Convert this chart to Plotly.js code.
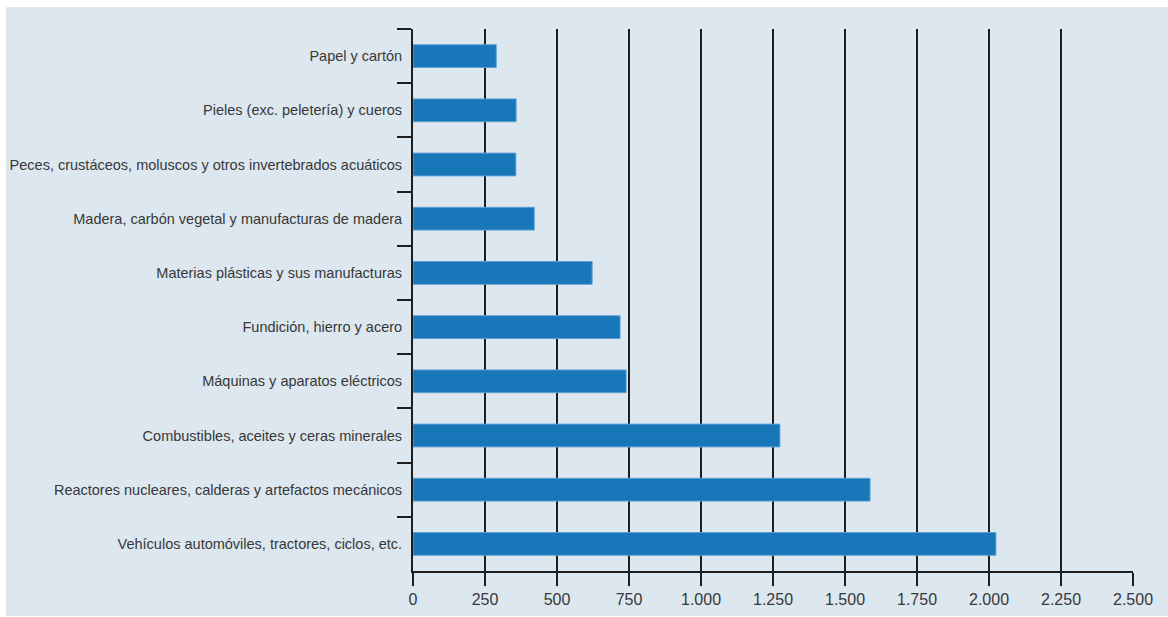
<!DOCTYPE html>
<html>
<head>
<meta charset="utf-8">
<script src="https://cdn.plot.ly/plotly-3.0.1.min.js"></script>
<style>
  html, body { margin: 0; padding: 0; background: #ffffff; width: 1168px; height: 617px; overflow: hidden; }
  #chart { position: absolute; left: 6px; top: 7px; width: 1162px; height: 609px; }
</style>
</head>
<body>
<div id="chart"></div>
<script>
const categories = [
  "Papel y cartón",
  "Pieles (exc. peletería) y cueros",
  "Peces, crustáceos, moluscos y otros invertebrados acuáticos",
  "Madera, carbón vegetal y manufacturas de madera",
  "Materias plásticas y sus manufacturas",
  "Fundición, hierro y acero",
  "Máquinas y aparatos eléctricos",
  "Combustibles, aceites y ceras minerales",
  "Reactores nucleares, calderas y artefactos mecánicos",
  "Vehículos automóviles, tractores, ciclos, etc."
];
const values = [289, 358, 357, 421, 622, 719, 740, 1274, 1587, 2024];
const tickVals = [0, 250, 500, 750, 1000, 1250, 1500, 1750, 2000, 2250, 2500];
const tickText = ["0", "250", "500", "750", "1.000", "1.250", "1.500", "1.750", "2.000", "2.250", "2.500"];

const trace = {
  type: "bar",
  orientation: "h",
  y: categories,
  x: values,
  width: 0.42,
  marker: { color: "#1877b8", line: { color: "#5da0d4", width: 1 } },
  hoverinfo: "x+y"
};

const layout = {
  width: 1162,
  height: 609,
  margin: { l: 407, r: 35, t: 22, b: 45 },
  paper_bgcolor: "#dce7f0",
  plot_bgcolor: "rgba(0,0,0,0)",
  showlegend: false,
  font: { family: "Liberation Sans, Arial, sans-serif", size: 14, color: "#383838" },
  xaxis: {
    range: [0, 2500],
    tickvals: tickVals,
    ticktext: tickText,
    showgrid: true,
    gridcolor: "#1e1e1e",
    gridwidth: 2,
    zeroline: false,
    showline: true,
    linecolor: "#1e1e1e",
    linewidth: 2,
    ticks: "outside",
    ticklen: 13,
    tickwidth: 2,
    tickcolor: "#1e1e1e",
    tickfont: { size: 16, color: "#383838" },
    fixedrange: true
  },
  yaxis: {
    type: "category",
    autorange: "reversed",
    tickson: "boundaries",
    ticks: "outside",
    ticklen: 14,
    tickwidth: 2,
    tickcolor: "#1e1e1e",
    ticklabelstandoff: 6,
    showline: true,
    linecolor: "#1e1e1e",
    linewidth: 2,
    showgrid: false,
    zeroline: false,
    tickfont: { size: 14.5, color: "#383838" },
    fixedrange: true
  }
};

Plotly.newPlot("chart", [trace], layout, { displayModeBar: false, staticPlot: true });
</script>
</body>
</html>
